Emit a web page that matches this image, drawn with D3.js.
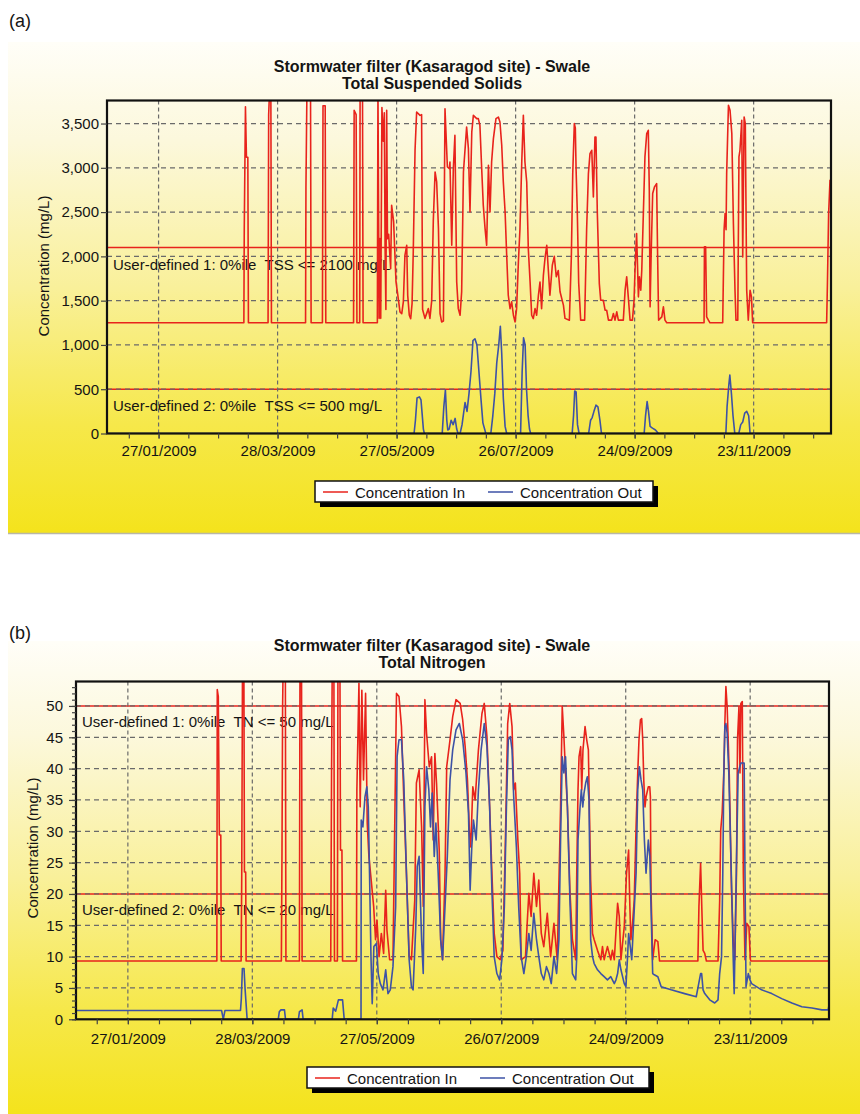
<!DOCTYPE html>
<html>
<head>
<meta charset="utf-8">
<script src="https://cdn.jsdelivr.net/npm/d3@7/dist/d3.min.js"></script>
<style>
  body { margin: 0; background: #fff; }
  svg text { font-family: "Liberation Sans", Arial, sans-serif; fill: #141414; }
</style>
</head>
<body>
<svg id="chart" width="860" height="1114"></svg>
<script>
// points are [day since 01/01/2009, concentration in mg/L]
const dateTicks = ['2009-01-27', '2009-03-28', '2009-05-27', '2009-07-26', '2009-09-24', '2009-11-23'];
const seriesNames = ['Concentration In', 'Concentration Out'];

// (a) Total Suspended Solids
const tssIn = [
  [0,1250],[69,1250],[69.2,2300],[69.8,3690],[70.3,3120],[71,3120],[71.3,1250],
  [81.2,1250],[81.5,3600],[82,3900],[82.6,3900],[82.9,1250],
  [100.1,1250],[100.3,2780],[100.8,3900],[102.6,3900],[102.9,1250],
  [108.6,1250],[108.9,3700],[110,3700],[110.3,1250],
  [124.3,1250],[124.6,3650],[125.6,3600],[126,1250],
  [127.4,1250],[127.6,3900],[128.8,3900],[129.1,1250],
  [136.3,1250],[136.6,3900],[137.2,1300],[137.6,2200],[138,1300],[138.6,3680],[139.3,3300],[139.8,3620],
  [140.2,2100],[140.6,1400],[141,3650],[141.4,2200],[142,2250],[143,1860],[143.5,2577],[144.5,2390],
  [145.7,1711],[146.4,1600],[147.7,1373],[148.6,1354],[149.4,1485],[150.2,2012],[151.1,2125],[151.6,1560],
  [152.4,1335],[153.1,1297],[153.8,1467],[154.4,2050],[155.3,3200],[156.1,3630],[157.8,3592],[158.6,3600],
  [159.1,1400],[160.3,1300],[162,1410],[162.8,1300],[163.7,1500],[164.5,2400],[165.4,2953],[166.2,2840],
  [167.1,2313],[167.9,1354],[168.7,1260],[169.6,1270],[170.4,3667],[171.6,3009],[172.6,2990],[172.9,3066],
  [173.8,2125],[174.6,2990],[175.4,3366],[176.3,1711],[177.1,1410],[178,1335],[178.8,1600],[179.7,2953],
  [181.3,3460],[182.2,3216],[183,2501],[183.9,3404],[184.7,3592],[186.4,3555],[187.2,3555],[188,3479],
  [188.9,2990],[189.7,2577],[190.6,2313],[191.4,2125],[192.3,3028],[193.1,2501],[193.9,3066],[194.8,3329],
  [196.1,3555],[197.3,3573],[198.1,3517],[199,3254],[199.8,2840],[200.7,2501],[201.5,2012],[202.3,1561],
  [203.2,1410],[204,1486],[204.9,1335],[205.7,1260],[206.5,1410],[207.4,1937],[208.2,2313],[209.1,3066],
  [209.9,3592],[210.7,3066],[211.6,2840],[212.4,2087],[213.3,1711],[214.1,1335],[214.9,1297],[215.8,1410],
  [216.6,1335],[217.5,1561],[218.3,1711],[219.1,1410],[220,1786],[220.8,1975],[221.7,2125],[223.3,1561],
  [224.5,1900],[225.5,2000],[226.5,1770],[227.5,1840],[228.4,1600],[230.1,1450],[230.9,1300],[233.1,1280],
  [234.1,2000],[234.8,2935],[235.6,3499],[236.1,3450],[236.5,2972],[237.1,2500],[237.8,1700],[238.8,1280],
  [240.8,1280],[241.8,2300],[242.7,2935],[243.5,3160],[244.4,3198],[245.2,2671],[246,3348],[246.5,3348],
  [247.2,2483],[248.2,1693],[248.9,1505],[250.2,1505],[251.1,1392],[251.9,1392],[252.8,1280],[254.4,1280],
  [255.3,1355],[256.1,1280],[257,1374],[257.8,1280],[260.3,1280],[261.2,1618],[262,1768],[262.8,1543],
  [263.7,1280],[264.9,1280],[265.7,1500],[266.2,1844],[267,2257],[267.9,1543],[268.4,1768],[269.1,1618],
  [269.6,1844],[270.4,2483],[271.2,3123],[272.1,3386],[272.9,3424],[273.4,2746],[273.8,1430],[274.3,1994],
  [275.1,2709],[276,2784],[277.1,2822],[277.6,1994],[278.1,1280],[279.7,1317],[280.5,1430],[281.3,1280],
  [282.2,1250],[301,1250],[301.2,2107],[301.8,2107],[302.3,1317],[303.2,1280],[304,1250],[310.4,1250],
  [311.1,2300],[311.6,2483],[312.1,2300],[312.4,2935],[313.3,3706],[314.1,3650],[315,3386],[315.8,2370],
  [316.6,1618],[317.1,1280],[318,1280],[318.6,3123],[319.1,3198],[320,3537],[320.5,1994],[321.2,3574],
  [321.8,3499],[322.5,1618],[323.3,1280],[324.2,1618],[324.9,1543],[325.5,1250],[362.8,1250],[363.2,1693],
  [363.8,2483],[364.5,2860],[365,2860]
];
const tssOut = [
  [0,0],[154.8,0],[155.5,150],[156.3,400],[157.5,414],[158.3,380],[159.5,50],[160,0],
  [169,0],[169.8,300],[170.6,490],[171.3,150],[171.8,40],[172.5,50],[173.5,150],[174.5,100],[175.5,170],[176.3,50],[177,0],
  [178,0],[179,100],[180.5,350],[181.5,250],[182.5,450],[183.5,700],[184.5,1050],[185.5,1070],[186.5,1000],
  [187.5,700],[188.5,400],[189.5,120],[191,0],
  [193.5,0],[194.5,200],[195.5,450],[196.5,800],[197.5,1000],[198.3,1210],[199,900],[199.8,400],[200.7,80],[201.5,0],
  [208.5,0],[209.3,700],[210,1080],[210.8,1000],[211.5,500],[212.3,200],[213,50],[213.6,0],
  [234.5,0],[235.2,200],[235.8,480],[236.5,470],[237.2,100],[238,0],
  [242.8,0],[243.8,150],[244.6,180],[245.5,250],[246.5,320],[247.5,300],[248.5,150],[249.3,0],
  [270.8,0],[271.5,200],[272.3,360],[273,250],[273.8,80],[275,60],[276.5,40],[278,0],
  [312,0],[312.6,300],[313.5,550],[314,660],[314.8,450],[315.6,200],[316.5,0],
  [318.5,0],[319.5,100],[320.5,130],[321.5,230],[322.5,250],[323.5,200],[324.2,0],[365,0]
];
const tssLimits = [2100, 500];
const tssLimitLabels = ['User-defined 1: 0%ile  TSS <= 2100 mg/L', 'User-defined 2: 0%ile  TSS <= 500 mg/L'];

// (b) Total Nitrogen
const tnIn = [
  [0,9.3],[68.9,9.3],[69.1,52.6],[69.6,51.5],[70.1,29.4],[70.8,29.4],[71,9.3],
  [80.6,9.3],[80.9,23],[81.3,60],[81.9,60],[82.2,23.5],[82.8,23.5],[83,9.3],
  [100,9.3],[100.3,26.5],[100.6,49.9],[101,60],[101.9,60],[102.2,9.3],
  [108.7,9.3],[109,60],[109.7,60],[110,9.3],
  [123.8,9.3],[124.2,39.8],[124.6,60],[125.3,60],[125.6,9.3],
  [127,9.3],[127.3,60],[128.2,60],[128.5,27],[129.2,27],[129.5,9.3],
  [136.2,9.3],[136.4,36.6],[137.4,53.6],[138,33.9],[138.8,52.5],[139.6,38.2],[140.6,52],[141.4,31.3],
  [142.2,26],[143.3,22.2],[144.5,18],[145.4,12.7],[146.1,15.8],[147.1,10],[148.2,13.7],[149.3,10.5],
  [150.3,20.6],[150.9,14.2],[152.2,9.5],[153.8,9.5],[155.5,52],[156.7,51.5],[157.9,46.7],[159,35.5],
  [160.3,23.3],[161.6,10],[162.7,9.5],[164.3,19],[165.1,37.7],[166.4,39.8],[167.6,30.7],[168.4,18],
  [169.2,51],[170,45.6],[171.3,40.3],[172.4,41.9],[173.2,28.6],[174,42.4],[174.8,37.7],[176.1,27],
  [176.8,12.7],[177.7,9.5],[178.9,23.3],[179.7,40.3],[181.3,44.6],[182.6,48.3],[184.2,51],[186.2,50.4],
  [187.4,47.8],[188.6,43.5],[189.7,38.2],[190.7,29.7],[191.3,27.5],[192.3,37.1],[193.4,35],[195,43],
  [196.7,48.8],[197.8,50.4],[199.1,45.1],[200.4,33.9],[201.5,23.3],[202.6,13.7],[203.9,10],[205.5,9.5],
  [206.8,11],[208,28.6],[209.1,47.2],[210.1,50.4],[211.2,46.7],[212,36.6],[212.8,37.7],[214,28.6],
  [214.9,23.3],[215.6,9.5],[217.7,10],[218.5,15.3],[219.3,20.1],[220.4,16.4],[221.7,23.3],[223,18],
  [224.1,22.2],[225.3,13.7],[226.5,11.6],[228.2,16.9],[229.8,10],[231.4,15.3],[233,9.5],[234.6,33.9],
  [235.4,49.9],[236.2,45.1],[237,39.3],[237.9,33.9],[239.1,20.6],[240.3,12.7],[241.9,9.5],[242.4,23.3],
  [243,36.6],[243.5,41.9],[244.3,43.5],[244.8,36.6],[245.4,43],[246.4,46.7],[247.2,44.6],[248,43],
  [249.1,22.2],[250,13.7],[250.8,12.7],[252.4,11],[254,9.5],[254.8,11.6],[255.6,9.5],[257.2,11.6],
  [258.8,9.5],[259.6,11],[260.5,9.5],[262.1,18.5],[262.9,16.4],[263.7,9.5],[265.3,14.8],[266.4,23.3],
  [267.4,27],[268,18],[268.5,12.7],[269.3,15.3],[270.1,19],[271,30.7],[271.8,39.3],[272.4,44.6],
  [273.1,47.8],[273.7,48],[274.2,44.6],[274.7,38.2],[275.3,33.9],[275.8,35.5],[276.9,37.1],[277.6,37.1],
  [277.9,35.5],[278.2,20.6],[279,9.5],[280.2,12.7],[281.5,12.4],[282.3,9.3],[300.8,9.3],[301.3,18],
  [302.1,24.9],[302.8,16.4],[303.3,11],[304.1,10.5],[304.9,9.3],[310.5,9.3],[311.3,19],[311.8,30.2],
  [312.5,32.9],[313.4,40.3],[313.8,47.2],[314.3,53.1],[314.9,49.9],[315.4,44.6],[315.9,39.3],[317,20.6],
  [317.8,12.7],[318.6,9.5],[319.4,23.3],[319.9,44.6],[320.6,49.9],[321.1,39.3],[321.5,50.4],[322.2,50.7],
  [322.7,23.3],[323.5,9.5],[324.4,15.3],[325.4,14.8],[326.1,9.5],[326.4,9.3],[363.9,9.3],[364.2,22.8],
  [364.8,37.7]
];
const tnOut = [
  [0,1.4],[71.2,1.4],[72,0],[72.8,1.4],[80.3,1.4],[80.7,3.3],[81.2,8.1],[82,8.1],[82.5,4.9],[83.5,0],
  [98.5,0],[99,1.2],[99.8,1.5],[101.5,1.5],[102,0],[108.2,0],[108.7,1.2],[110,1.5],[110.5,0],
  [124.5,0],[125,1.8],[126.2,1.3],[127.5,3.1],[129.5,3.1],[130.3,0],[138.4,0],
  [138.5,31.8],[139.3,30.7],[140.3,35.5],[141.2,37.1],[141.9,33.9],[142.5,23.3],[143.2,10],[143.8,2.5],
  [144.6,11.6],[145.8,12.1],[146.7,7.3],[147.7,5.7],[149,4.7],[150.3,7.9],[151.4,4.1],[152.5,4.7],
  [153.8,8.4],[155.1,18],[155.8,41.9],[156.7,44.6],[157.9,44.6],[159,38.2],[160.3,23.3],[161.6,9.5],
  [162.7,5.2],[163.5,4.7],[164.8,14.8],[165.5,24.4],[166.4,26],[167.6,12.7],[168.4,7.3],[169.2,33.9],
  [170,40.3],[171.1,36.6],[171.9,30.7],[172.7,36.1],[173.7,26],[174.5,31.3],[175.6,23.3],[176.8,12.7],
  [177.7,9.5],[178.9,18],[180,26],[181.3,38.2],[182.6,43],[184.2,46.2],[185.8,47.2],[187.4,44.6],
  [189,39.3],[190.2,32.9],[191,20.6],[191.8,27.5],[192.6,31.8],[193.9,28.6],[195,36.6],[196.3,43],
  [197.8,47.2],[199.1,43.5],[200.4,33.9],[201.5,20.6],[202.6,10],[203.9,7.3],[205.2,6.3],[206.3,9.5],
  [207.5,18],[208.5,33.9],[209.4,44.6],[210.4,45.1],[211.2,43],[212,35.5],[213.3,27.5],[214.4,18],
  [215.6,10],[216.9,7.3],[218.1,10],[219.3,13.7],[220.4,11],[221.7,16.9],[223,12.7],[224.1,10],
  [225.3,7.3],[226.5,6.3],[227.8,8.4],[229,7.3],[230.1,5.7],[231.4,10],[232.7,7.3],[233.8,12.7],
  [234.6,28.6],[235.4,41.9],[236.2,39.3],[237,41.9],[237.9,33.9],[239.1,19],[240.3,7.3],[241.9,6.3],
  [242.4,10],[243,28.6],[244,33.9],[244.6,36.6],[245.3,33.9],[245.9,36.1],[246.7,37.7],[247.5,38.7],
  [248.3,35],[249.1,12.7],[250,10],[250.8,8.9],[252.4,7.9],[254,7.3],[255.6,6.8],[257.2,6.3],
  [258.8,6.8],[260.5,5.7],[261.3,6.3],[262.1,7.3],[262.9,9.5],[263.7,7.9],[265.3,5.7],[266.1,5.2],
  [266.9,10],[267.4,13.7],[268.2,11.6],[268.9,9.5],[271,23.3],[271.8,36.6],[272.6,40.3],[273.4,38.2],
  [274.2,36.6],[275,28.6],[275.8,23.3],[276.9,28.6],[277.6,26],[278.2,18],[279,7.3],[279.8,7.1],
  [281.5,6.8],[283.1,5.2],[287.9,4.7],[294.4,4.1],[300,3.6],[301.2,5.7],[302.1,7.3],[302.6,7.3],
  [303.3,4.7],[304.1,4.1],[306.5,3.1],[308.9,2.6],[310.5,3.1],[311.3,7.3],[312.2,10],[312.8,23.3],
  [313.3,39.3],[313.8,46.7],[314.3,47.2],[314.9,45.6],[315.7,39.3],[316.5,28.6],[317.3,18],[317.8,10],
  [318.3,4.1],[319.3,23.3],[320.2,39.3],[321.5,40.9],[323.1,40.9],[323.5,23.3],[324,5.2],[325.1,7.3],
  [325.9,6.3],[326.7,5.7],[331.5,4.7],[336.4,4.1],[341.2,3.3],[346.1,2.6],[350.9,2],[355.8,1.8],
  [360.6,1.5],[363.6,1.5],[364.2,2.6],[364.8,4.1]
];
const tnLimits = [50, 20];
const tnLimitLabels = ['User-defined 1: 0%ile  TN <= 50 mg/L', 'User-defined 2: 0%ile  TN <= 20 mg/L'];

const RED = '#e8231c';
const BLUE = '#3d52a6';
const GRID = '#6a6a6a';
const day0 = Date.UTC(2009, 0, 1);
const toDate = (d) => new Date(day0 + d * 864e5);
const parseDate = d3.utcParse('%Y-%m-%d');
const fmtDate = d3.utcFormat('%d/%m/%Y');

const svg = d3.select('#chart');
const defs = svg.append('defs');
const grad = defs.append('linearGradient')
  .attr('id', 'panelBg')
  .attr('x1', 0).attr('y1', 0).attr('x2', 0).attr('y2', 1);
[[0, '#fffef8'], [0.2, '#fcf8dc'], [0.5, '#f9f09a'], [0.78, '#f6e84a'], [1, '#f4e31c']].forEach((s) => {
  grad.append('stop').attr('offset', s[0]).attr('stop-color', s[1]);
});

function drawPanel(p) {
  const g = svg.append('g');

  g.append('rect')
    .attr('x', 8).attr('y', p.bgTop)
    .attr('width', 852).attr('height', p.bgBottom - p.bgTop)
    .attr('fill', 'url(#panelBg)');
  if (p.bgLine) {
    g.append('line')
      .attr('x1', 8).attr('x2', 860).attr('y1', p.bgBottom + 0.5).attr('y2', p.bgBottom + 0.5)
      .attr('stroke', '#b9b7a6').attr('stroke-width', 1.5);
  }

  g.append('text').attr('x', 9).attr('y', p.tag.y).attr('font-size', 18).text(p.tag.text);

  p.title.forEach((t, i) => {
    g.append('text')
      .attr('x', 432).attr('y', p.titleY + i * 17)
      .attr('text-anchor', 'middle')
      .attr('font-size', 16).attr('font-weight', 'bold')
      .text(t);
  });

  const x = d3.scaleUtc()
    .domain(p.xDomain.map(parseDate))
    .range([p.left, p.right]);
  const y = d3.scaleLinear()
    .domain([0, p.yMax])
    .range([p.bottom, p.top]);

  const clipId = 'clip-' + p.id;
  defs.append('clipPath').attr('id', clipId)
    .append('rect')
    .attr('x', p.left).attr('y', p.top)
    .attr('width', p.right - p.left).attr('height', p.bottom - p.top);

  // user-defined limits
  g.selectAll('.limit')
    .data(p.limits)
    .enter()
    .append('line')
    .attr('x1', p.left).attr('x2', p.right)
    .attr('y1', (d) => y(d)).attr('y2', (d) => y(d))
    .attr('stroke', RED).attr('stroke-width', 1.5);

  // grid
  const tickDates = dateTicks.map(parseDate);
  g.selectAll('.vgrid')
    .data(tickDates)
    .enter()
    .append('line')
    .attr('x1', (d) => x(d)).attr('x2', (d) => x(d))
    .attr('y1', p.top).attr('y2', p.bottom)
    .attr('stroke', GRID).attr('stroke-width', 1.2)
    .attr('stroke-dasharray', '4,3');
  g.selectAll('.hgrid')
    .data(p.yTicks.filter((v) => v > 0))
    .enter()
    .append('line')
    .attr('x1', p.left).attr('x2', p.right)
    .attr('y1', (d) => y(d)).attr('y2', (d) => y(d))
    .attr('stroke', GRID).attr('stroke-width', 1.2)
    .attr('stroke-dasharray', '5,4');

  p.limitLabels.forEach((t, i) => {
    g.append('text')
      .attr('x', p.left + p.labelDx)
      .attr('y', y(p.limits[i]) + p.labelDy)
      .attr('font-size', 15)
      .style('white-space', 'pre')
      .text(t);
  });

  const line = d3.line()
    .x((d) => x(toDate(d[0])))
    .y((d) => y(d[1]));
  const plot = g.append('g').attr('clip-path', `url(#${clipId})`);
  plot.append('path')
    .attr('d', line(p.inData))
    .attr('fill', 'none').attr('stroke', RED).attr('stroke-width', 1.6)
    .attr('stroke-linejoin', 'round');
  plot.append('path')
    .attr('d', line(p.outData))
    .attr('fill', 'none').attr('stroke', BLUE).attr('stroke-width', 1.6)
    .attr('stroke-linejoin', 'round');

  g.append('rect')
    .attr('x', p.left).attr('y', p.top)
    .attr('width', p.right - p.left).attr('height', p.bottom - p.top)
    .attr('fill', 'none').attr('stroke', '#111').attr('stroke-width', 2.2);

  // x axis: minor ticks every 15 days, labelled every 60
  const minorDates = d3.range(11, 365, 15).map(toDate);
  g.append('g')
    .attr('transform', `translate(0,${p.bottom})`)
    .call(d3.axisBottom(x).tickValues(minorDates).tickSize(5).tickFormat(''));
  const xMajor = g.append('g')
    .attr('transform', `translate(0,${p.bottom})`)
    .call(d3.axisBottom(x).tickValues(tickDates).tickSize(5).tickPadding(p.xPad).tickFormat(fmtDate));
  xMajor.selectAll('text').attr('font-size', 15).attr('fill', '#141414');

  // y axis
  if (p.yMinor) {
    g.append('g')
      .attr('transform', `translate(${p.left},0)`)
      .call(d3.axisLeft(y).tickValues(d3.range(0, p.yMax, p.yMinor)).tickSize(4).tickFormat(''));
  }
  const yAxis = g.append('g')
    .attr('transform', `translate(${p.left},0)`)
    .call(d3.axisLeft(y).tickValues(p.yTicks).tickSize(p.ySize).tickPadding(p.yPad).tickFormat(d3.format(',')));
  yAxis.selectAll('text').attr('font-size', 15).attr('fill', '#141414');

  g.selectAll('.domain').remove();
  g.selectAll('.tick line').attr('stroke', '#444').attr('stroke-width', 1.2);

  g.append('text')
    .attr('transform', `translate(${p.yLabel.x},${p.yLabel.y}) rotate(-90)`)
    .attr('text-anchor', 'middle')
    .attr('font-size', 15)
    .text('Concentration (mg/L)');

  // legend
  const lg = g.append('g').attr('transform', `translate(${p.legend.x},${p.legend.y})`);
  lg.append('rect').attr('x', 5).attr('y', 5).attr('width', p.legend.w).attr('height', 21).attr('fill', '#000');
  lg.append('rect').attr('x', 0).attr('y', 0).attr('width', p.legend.w).attr('height', 21)
    .attr('fill', '#fff').attr('stroke', '#111').attr('stroke-width', 1.5);
  [[RED, 8], [BLUE, 173]].forEach((s, i) => {
    lg.append('line')
      .attr('x1', s[1]).attr('x2', s[1] + 25).attr('y1', 11).attr('y2', 11)
      .attr('stroke', s[0]).attr('stroke-width', 1.5);
    lg.append('text')
      .attr('x', s[1] + 32).attr('y', 16.5)
      .attr('font-size', 15)
      .text(seriesNames[i]);
  });
}

drawPanel({
  id: 'a',
  bgTop: 42, bgBottom: 533, bgLine: true,
  tag: { text: '(a)', y: 27 },
  title: ['Stormwater filter (Kasaragod site) - Swale', 'Total Suspended Solids'],
  titleY: 72,
  left: 107, right: 831, top: 100.5, bottom: 433.5,
  xDomain: ['2009-01-01', '2010-01-01'],
  yMax: 3760,
  yTicks: d3.range(0, 3501, 500),
  ySize: 6, yPad: 2, yMinor: null,
  xPad: 7,
  limits: tssLimits, limitLabels: tssLimitLabels, labelDx: 6, labelDy: 22,
  inData: tssIn, outData: tssOut,
  yLabel: { x: 49, y: 266 },
  legend: { x: 315, y: 481, w: 338 }
});

drawPanel({
  id: 'b',
  bgTop: 641, bgBottom: 1114, bgLine: false,
  tag: { text: '(b)', y: 639 },
  title: ['Stormwater filter (Kasaragod site) - Swale', 'Total Nitrogen'],
  titleY: 651,
  left: 76, right: 829, top: 681.5, bottom: 1019.3,
  xDomain: ['2009-01-02', '2009-12-31'],
  yMax: 53.9,
  yTicks: d3.range(0, 51, 5),
  ySize: 7, yPad: 6, yMinor: 1,
  xPad: 9,
  limits: tnLimits, limitLabels: tnLimitLabels, labelDx: 6, labelDy: 21,
  inData: tnIn, outData: tnOut,
  yLabel: { x: 38, y: 848 },
  legend: { x: 307, y: 1067, w: 342 }
});
</script>
</body>
</html>
